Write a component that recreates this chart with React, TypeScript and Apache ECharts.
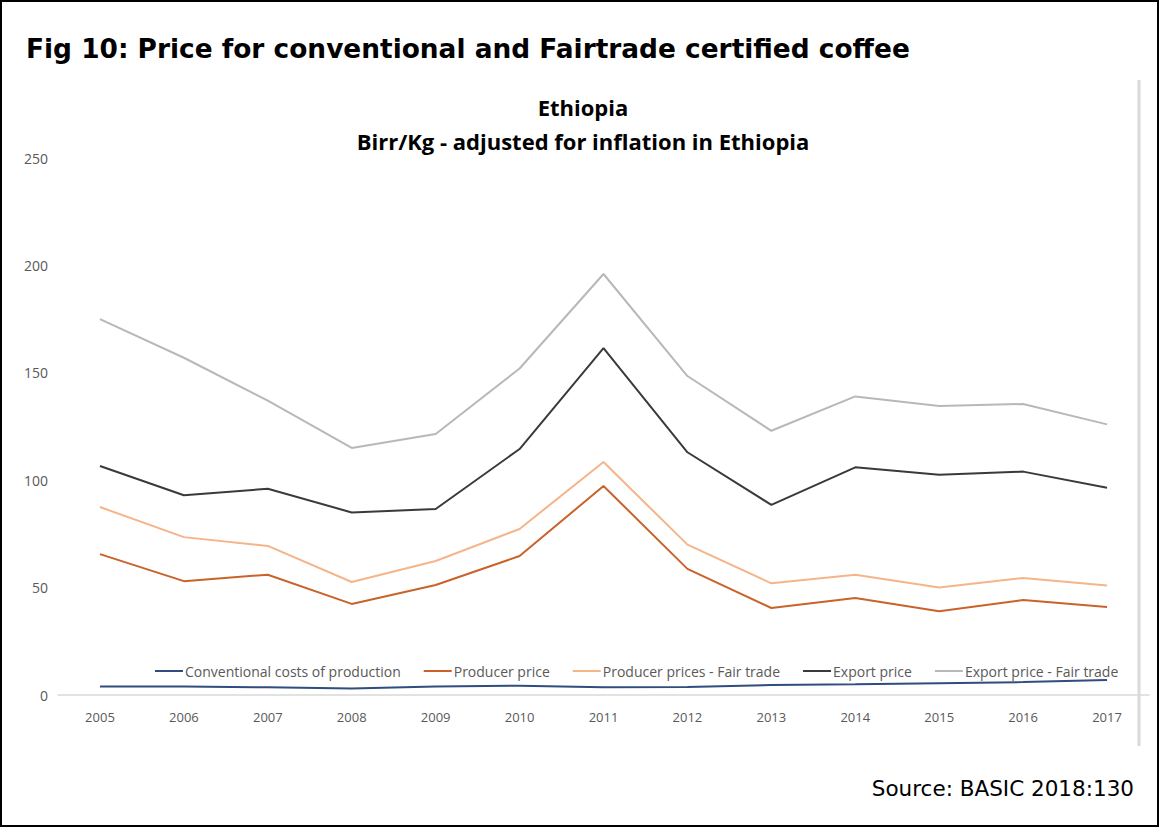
import React, { useEffect, useRef } from "react";
import * as echarts from "echarts";

const years = ["2005","2006","2007","2008","2009","2010","2011","2012","2013","2014","2015","2016","2017"];
const conventionalCosts = [4, 4, 3.6, 3, 4, 4.3, 3.6, 3.7, 4.6, 5, 5.5, 6, 7];
const producerPrice = [65.6, 53, 56, 42.4, 51.2, 64.7, 97.3, 58.7, 40.5, 45.2, 39, 44.2, 41];
const producerPriceFT = [87.5, 73.5, 69.4, 52.6, 62.4, 77.3, 108.5, 70, 52, 56, 50, 54.5, 51];
const exportPrice = [106.6, 93, 96, 85, 86.6, 114.5, 161.5, 113, 88.5, 106, 102.5, 104, 96.5];
const exportPriceFT = [175, 157, 137, 115, 121.5, 152, 196, 148.5, 123, 139, 134.5, 135.5, 126];

const seriesNames = [
  "Conventional costs of production",
  "Producer price",
  "Producer prices - Fair trade",
  "Export price",
  "Export price - Fair trade",
];
const seriesColors = ["#2f4d7e", "#c8632a", "#f5b48a", "#3a3a3a", "#b8b8b8"];
const seriesData = [conventionalCosts, producerPrice, producerPriceFT, exportPrice, exportPriceFT];

export default function App() {
  const ref = useRef<HTMLDivElement>(null);
  useEffect(() => {
    if (!ref.current) return;
    const chart = echarts.init(ref.current, null, { renderer: "svg" });
    chart.setOption({
      animation: false,
      backgroundColor: "#ffffff",
      title: [
        {
          text: "Fig 10: Price for conventional and Fairtrade certified coffee",
          left: 21,
          top: 30,
          textStyle: { fontFamily: "DejaVu Sans", fontWeight: "bold", fontSize: 26.4, color: "#000" },
        },
        {
          text: "Ethiopia\nBirr/Kg - adjusted for inflation in Ethiopia",
          left: 578,
          top: 85,
          textAlign: "center",
          textStyle: { fontFamily: "Open Sans", fontWeight: "bold", fontSize: 22, color: "#000", lineHeight: 34, align: "center" },
        },
        {
          text: "Source: BASIC 2018:130",
          right: 20,
          top: 772,
          textStyle: { fontFamily: "DejaVu Sans", fontWeight: "normal", fontSize: 21.5, color: "#000" },
        },
      ],
      legend: {
        left: 150,
        top: 659,
        itemWidth: 28,
        itemHeight: 2,
        itemGap: 23,
        icon: "rect",
        textStyle: { fontFamily: "Open Sans", fontSize: 14, color: "#595959", padding: [0, 0, 0, -3] },
        data: seriesNames,
      },
      grid: { left: 58, right: 10, top: 158, bottom: 132 },
      xAxis: {
        type: "category",
        data: years,
        boundaryGap: true,
        axisLine: { lineStyle: { color: "#d9d9d9", width: 1.5 } },
        axisTick: { show: false },
        axisLabel: { color: "#595959", fontFamily: "Open Sans", fontSize: 13, margin: 15 },
      },
      yAxis: {
        type: "value",
        min: 0,
        max: 250,
        interval: 50,
        axisLine: { show: false },
        axisTick: { show: false },
        splitLine: { show: false },
        axisLabel: { color: "#595959", fontFamily: "Open Sans", fontSize: 14, margin: 10 },
      },
      series: seriesNames.map((name, i) => ({
        name,
        type: "line",
        data: seriesData[i],
        symbol: "none",
        color: seriesColors[i],
        lineStyle: { color: seriesColors[i], width: 2 },
      })),
      graphic: [
        {
          type: "rect",
          shape: { x: 1, y: 1, width: 1157, height: 825 },
          style: { fill: "none", stroke: "#000", lineWidth: 2 },
          silent: true,
        },
        {
          type: "line",
          shape: { x1: 1139, y1: 80, x2: 1139, y2: 746 },
          style: { stroke: "#d9d9d9", lineWidth: 3 },
          silent: true,
        },
      ],
    });
    return () => chart.dispose();
  }, []);
  return (
    <div
      ref={ref}
      style={{ position: "absolute", left: 0, top: 0, width: 1159, height: 827, background: "#fff" }}
    />
  );
}
